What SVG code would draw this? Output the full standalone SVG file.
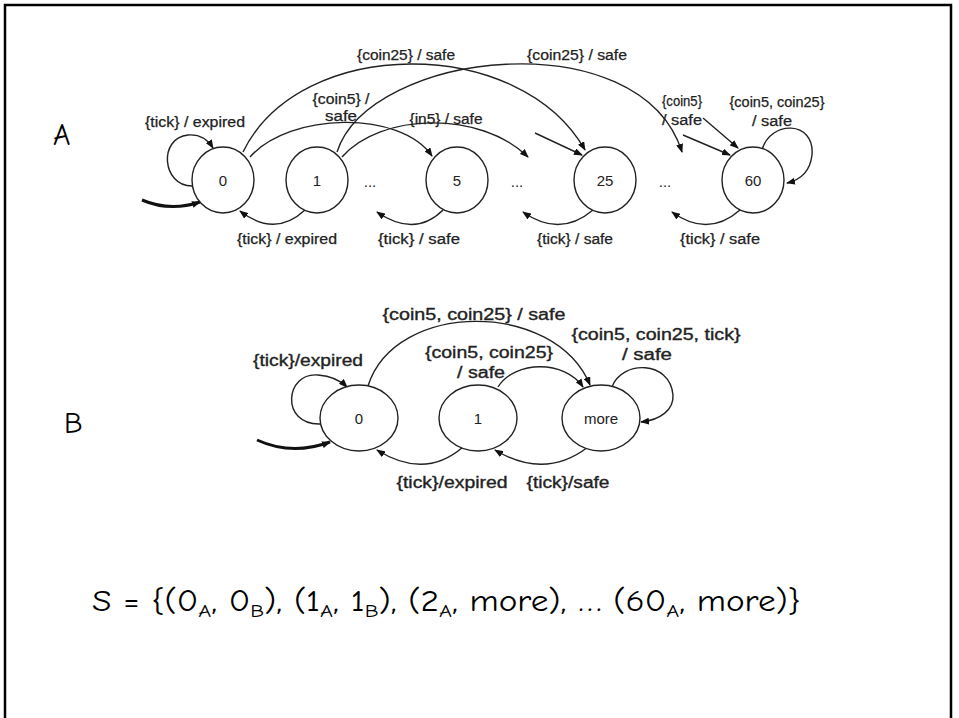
<svg xmlns="http://www.w3.org/2000/svg" width="959" height="718" viewBox="0 0 959 718">
<style>
.n{fill:#fff;stroke:#222;stroke-width:1.4}
.e{fill:none;stroke:#222;stroke-width:1.4;marker-end:url(#ah)}
.ei{fill:none;stroke:#111;stroke-width:3;marker-end:url(#ah)}
.la{font-family:"Liberation Sans",Arial,sans-serif;font-size:14px;fill:#222;text-anchor:middle;stroke:#222;stroke-width:0.25}
.lb{font-family:"Liberation Sans",Arial,sans-serif;font-size:16px;fill:#222;text-anchor:middle;stroke:#222;stroke-width:0.35}
.nt{font-family:"Liberation Sans",Arial,sans-serif;font-size:15px;fill:#222;text-anchor:middle}
.big{font-family:"Comic Sans MS","Comic Neue","Open Sans",sans-serif;font-size:30px;fill:#000}
</style>
<defs>
<marker id="ah" markerWidth="9" markerHeight="7" refX="8" refY="3.5" orient="auto" markerUnits="userSpaceOnUse">
<path d="M0,0 L9,3.5 L0,7 z" fill="#111"/>
</marker>
</defs>
<rect width="959" height="718" fill="#fff"/>
<path d="M5,718 V5 H951 V718" fill="none" stroke="#000" stroke-width="2.5"/>

<text class="big" x="53" y="145">A</text>
<text class="big" x="64" y="433">B</text>

<g id="connectors">
<!-- A machine -->
<path class="e" d="M192,186 C162,186 158,138 188,135 C200,134 208,140 213,148"/>
<path class="ei" d="M142,200 Q170,212 200,202" stroke-width="2"/>
<path class="e" d="M305,210 Q275,238 240,211"/>
<path class="e" d="M243,152 C300,35 520,35 585,150"/>
<path class="e" d="M337,152 C370,50 640,20 682,152"/>
<path class="e" d="M250,157 C290,112 400,110 432,156"/>
<path class="e" d="M342,157 C380,113 480,110 528,157"/>
<path class="e" d="M535,133 L582,155"/>
<path class="e" d="M683,135 L730,155"/>
<path class="e" d="M703,118 L738,148"/>
<path class="e" d="M762,150 C770,120 815,120 812,155 C810,172 800,180 787,183"/>
<path class="e" d="M443,210 Q415,238 377,212"/>
<path class="e" d="M593,210 Q560,238 523,212"/>
<path class="e" d="M740,210 Q708,238 672,212"/>
<!-- B machine -->
<path class="e" d="M320,424 C280,425 285,372 318,375 C330,376 340,380 347,387"/>
<path class="ei" d="M257,440 Q292,456 330,442"/>
<path class="e" d="M368,386 C395,300 555,300 590,385"/>
<path class="e" d="M498,387 C515,360 565,360 583,387"/>
<path class="e" d="M612,387 C622,360 670,360 673,395 C674,410 660,420 641,422"/>
<path class="e" d="M588,447 Q545,480 495,450"/>
<path class="e" d="M463,447 Q425,480 377,450"/>
</g>

<g id="labels">
<text class="la" x="195" y="127" textLength="100" lengthAdjust="spacingAndGlyphs">{tick} / expired</text>
<text class="la" x="406" y="60" textLength="98" lengthAdjust="spacingAndGlyphs">{coin25} / safe</text>
<text class="la" x="577" y="60" textLength="100" lengthAdjust="spacingAndGlyphs">{coin25} / safe</text>
<text class="la" x="341" y="104" textLength="57" lengthAdjust="spacingAndGlyphs">{coin5} /</text>
<text class="la" x="341" y="121" textLength="32" lengthAdjust="spacingAndGlyphs">safe</text>
<text class="la" x="446" y="124" textLength="73" lengthAdjust="spacingAndGlyphs">{in5} / safe</text>
<text class="la" x="682" y="106" textLength="40" lengthAdjust="spacingAndGlyphs">{coin5}</text>
<text class="la" x="682" y="125" textLength="40" lengthAdjust="spacingAndGlyphs">/ safe</text>
<text class="la" x="777" y="107" textLength="95" lengthAdjust="spacingAndGlyphs">{coin5, coin25}</text>
<text class="la" x="772" y="126" textLength="40" lengthAdjust="spacingAndGlyphs">/ safe</text>
<text class="la" x="287" y="244" textLength="100" lengthAdjust="spacingAndGlyphs">{tick} / expired</text>
<text class="la" x="419" y="244" textLength="82" lengthAdjust="spacingAndGlyphs">{tick} / safe</text>
<text class="la" x="575" y="244" textLength="76" lengthAdjust="spacingAndGlyphs">{tick} / safe</text>
<text class="la" x="720" y="244" textLength="80" lengthAdjust="spacingAndGlyphs">{tick} / safe</text>

<text class="lb" x="308" y="366" textLength="110" lengthAdjust="spacingAndGlyphs">{tick}/expired</text>
<text class="lb" x="474" y="320" textLength="183" lengthAdjust="spacingAndGlyphs">{coin5, coin25} / safe</text>
<text class="lb" x="489" y="358" textLength="128" lengthAdjust="spacingAndGlyphs">{coin5, coin25}</text>
<text class="lb" x="481" y="378" textLength="48" lengthAdjust="spacingAndGlyphs">/ safe</text>
<text class="lb" x="656" y="340" textLength="169" lengthAdjust="spacingAndGlyphs">{coin5, coin25, tick}</text>
<text class="lb" x="647" y="360" textLength="50" lengthAdjust="spacingAndGlyphs">/ safe</text>
<text class="lb" x="452" y="488" textLength="111" lengthAdjust="spacingAndGlyphs">{tick}/expired</text>
<text class="lb" x="568" y="488" textLength="83" lengthAdjust="spacingAndGlyphs">{tick}/safe</text>
<text class="nt" x="370" y="187">...</text>
<text class="nt" x="517" y="187">...</text>
<text class="nt" x="665" y="187">...</text>
</g>

<g id="A0"><ellipse class="n" cx="223" cy="180" rx="31" ry="33"/><text class="nt" x="223" y="186">0</text></g>
<g id="A1"><ellipse class="n" cx="317" cy="180" rx="31" ry="33"/><text class="nt" x="317" y="186">1</text></g>
<g id="A5"><ellipse class="n" cx="457" cy="180" rx="31" ry="33"/><text class="nt" x="457" y="186">5</text></g>
<g id="A25"><ellipse class="n" cx="605" cy="180" rx="31" ry="33"/><text class="nt" x="605" y="186">25</text></g>
<g id="A60"><ellipse class="n" cx="753" cy="180" rx="31" ry="33"/><text class="nt" x="753" y="186">60</text></g>

<g id="B0"><ellipse class="n" cx="359" cy="418" rx="39" ry="33"/><text class="nt" x="359" y="424">0</text></g>
<g id="B1"><ellipse class="n" cx="478" cy="418" rx="39" ry="33"/><text class="nt" x="478" y="424">1</text></g>
<g id="Bmore"><ellipse class="n" cx="601" cy="418" rx="39" ry="33"/><text class="nt" x="601" y="424" font-size="16">more</text></g>

<text class="big" x="92" y="611" textLength="709" lengthAdjust="spacingAndGlyphs">S = {(0<tspan font-size="19" dy="6">A</tspan><tspan dy="-6">, 0</tspan><tspan font-size="19" dy="6">B</tspan><tspan dy="-6">), (1</tspan><tspan font-size="19" dy="6">A</tspan><tspan dy="-6">, 1</tspan><tspan font-size="19" dy="6">B</tspan><tspan dy="-6">), (2</tspan><tspan font-size="19" dy="6">A</tspan><tspan dy="-6">, more), … (60</tspan><tspan font-size="19" dy="6">A</tspan><tspan dy="-6">, more)}</tspan></text>
</svg>
